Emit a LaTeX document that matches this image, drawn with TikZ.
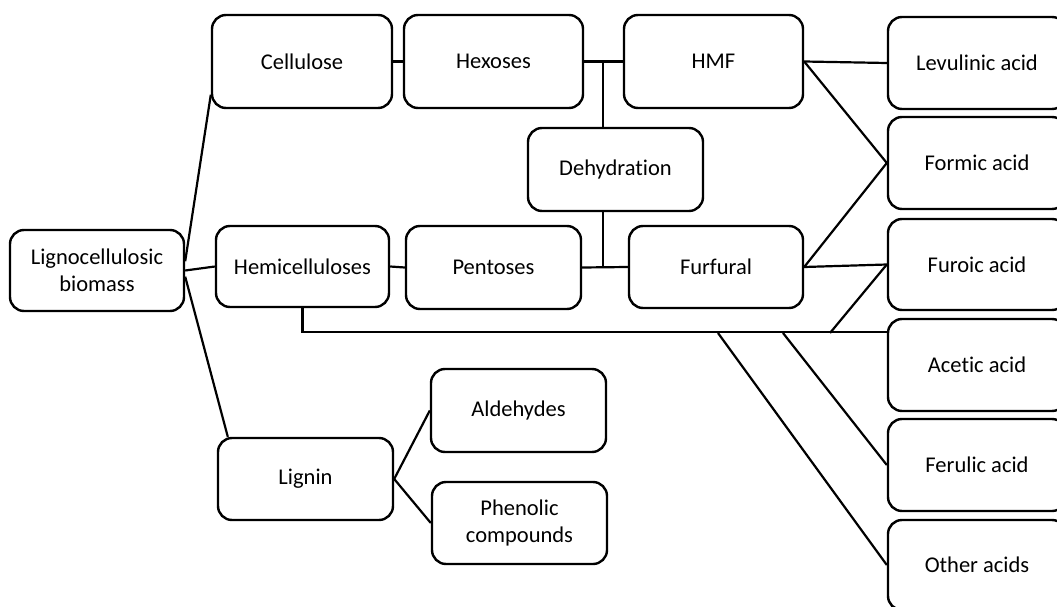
\documentclass[tikz,border=0pt]{standalone}
\usepackage{fontspec}
\setmainfont{Carlito}[Ligatures=NoCommon]
\usepackage{tikz}

\begin{document}
\begin{tikzpicture}[x=1pt,y=-1pt,
    box/.style={draw,rectangle,rounded corners=14pt,line width=2.4pt,
      minimum width=175pt,minimum height=82pt,inner sep=0pt,align=center,
      font=\fontsize{22.5}{27}\selectfont},
    acid/.style={box,minimum width=178pt,minimum height=92pt},
    link/.style={line width=2.2pt}]
    \useasboundingbox (0,0) rectangle (1057,607);
    \clip (0,0) rectangle (1057,607);

    \node[box,minimum width=174pt,minimum height=81pt] (lcb) at (97,270.5) {Lignocellulosic\\biomass};
    \node[box,minimum width=180pt,minimum height=93pt] (cel) at (302,61.5) {Cellulose};
    \node[box,minimum width=179pt,minimum height=93pt] (hex) at (493.5,61.5) {Hexoses};
    \node[box,minimum width=179pt,minimum height=93pt] (hmf) at (713.5,61.5) {HMF};
    \node[box,minimum height=83pt] (dhy) at (615.5,169.5) {Dehydration};
    \node[box,minimum width=173pt,minimum height=81pt] (hem) at (302.5,266.5) {Hemicelluloses};
    \node[box,minimum height=83pt] (pen) at (493.5,267.5) {Pentoses};
    \node[box,minimum width=174pt] (fal) at (716,267) {Furfural};
    \node[box] (lig) at (305.5,479) {Lignin};
    \node[box,minimum height=83pt] (ald) at (518.5,410.5) {Aldehydes};
    \node[box] (phe) at (519.5,523) {Phenolic\\compounds};

    \node[acid] (lev) at (977,63) {Levulinic acid};
    \node[acid] (for) at (977,163) {Formic acid};
    \node[acid,minimum height=91pt] (fro) at (977,264.5) {Furoic acid};
    \node[acid] (ace) at (977,365) {Acetic acid};
    \node[acid] (fer) at (977,465) {Ferulic acid};
    \node[acid,minimum height=90pt] (oth) at (977,565) {Other acids};

    % junctions
    \coordinate (jt) at (603,62);
    \coordinate (jb) at (603,267);
    \coordinate (b1) at (830,333);
    \coordinate (b2) at (783,333);
    \coordinate (b3) at (718,333);

    \draw[link] (lcb.6) -- (cel.200);
    \draw[link] (lcb.east) -- (hem.west);
    \draw[link] (lcb.-4) -- ([xshift=11pt]lig.north west);
    \draw[link] (cel.east) -- (hex.west);
    \draw[link] (hex.east) -- (hmf.west);
    \draw[link] (jt) -- (dhy.north -| jt);
    \draw[link] (dhy.south -| jb) -- (jb);
    \draw[link] (hem.east) -- (pen.west);
    \draw[link] (pen.east) -- (fal.west);
    \draw[link] (hmf.east) -- (lev.west);
    \draw[link] (hmf.east) -- (for.west);
    \draw[link] (fal.east) -- (for.west);
    \draw[link] (fal.east) -- (fro.west);
    \draw[link] (hem.south) |- ([yshift=-14pt]ace.north west);
    \draw[link] (b1) -- (fro.west);
    \draw[link] (b2) -- (fer.west);
    \draw[link] (b3) -- (oth.west);
    \draw[link] (lig.east) -- (ald.west);
    \draw[link] (lig.east) -- (phe.west);
\end{tikzpicture}
\end{document}
